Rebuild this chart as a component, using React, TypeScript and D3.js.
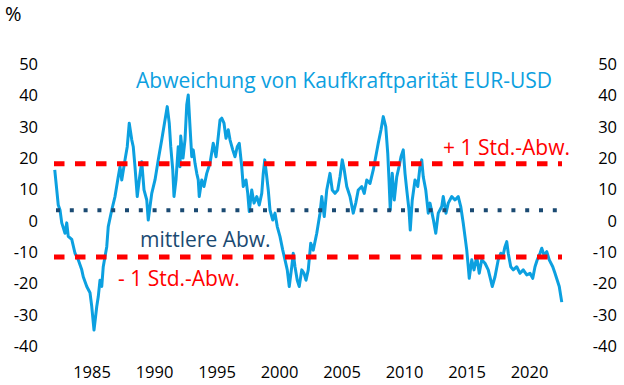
import React, { useEffect, useRef } from "react";
import * as d3 from "d3";

// decimal year of each reading
const years = [
  1982.02, 1982.18, 1982.3, 1982.44, 1982.58, 1982.84, 1982.98, 1983.1, 1983.38, 1983.64,
  1983.9, 1984.18, 1984.3, 1984.58, 1984.84, 1984.98, 1985.16, 1985.38, 1985.5, 1985.64,
  1985.78, 1985.9, 1986.18, 1986.3, 1986.58, 1986.84, 1987.1, 1987.24, 1987.38, 1987.64,
  1987.82, 1987.98, 1988.18, 1988.3, 1988.44, 1988.62, 1988.78, 1988.98, 1989.16, 1989.38,
  1989.5, 1989.64, 1989.78, 1990.04, 1990.3, 1990.44, 1990.58, 1990.84, 1991.02, 1991.18,
  1991.3, 1991.46, 1991.56, 1991.72, 1991.9, 1992.04, 1992.1, 1992.28, 1992.44, 1992.58,
  1992.7, 1992.84, 1992.98, 1993.1, 1993.24, 1993.38, 1993.5, 1993.58, 1993.78, 1993.96,
  1994.18, 1994.44, 1994.7, 1994.92, 1995.1, 1995.24, 1995.38, 1995.56, 1995.72, 1995.9,
  1996.04, 1996.26, 1996.44, 1996.62, 1996.78, 1996.98, 1997.1, 1997.32, 1997.46, 1997.58,
  1997.78, 1997.96, 1998.18, 1998.38, 1998.58, 1998.7, 1998.82, 1998.98, 1999.1, 1999.24,
  1999.46, 1999.64, 1999.82, 2000.04, 2000.26, 2000.44, 2000.62, 2000.78, 2000.98, 2001.1,
  2001.24, 2001.42, 2001.58, 2001.78, 2001.96, 2002.12, 2002.3, 2002.5, 2002.7, 2002.98,
  2003.24, 2003.38, 2003.58, 2003.78, 2004.04, 2004.22, 2004.44, 2004.66, 2004.84, 2005.02,
  2005.18, 2005.38, 2005.64, 2005.9, 2006.1, 2006.3, 2006.58, 2006.78, 2006.98, 2007.24,
  2007.5, 2007.7, 2007.9, 2008.12, 2008.3, 2008.5, 2008.66, 2008.76, 2008.86, 2009.02,
  2009.18, 2009.38, 2009.56, 2009.72, 2009.9, 2010.04, 2010.18, 2010.36, 2010.46, 2010.62,
  2010.84, 2011.06, 2011.24, 2011.38, 2011.5, 2011.7, 2011.9, 2012.04, 2012.3, 2012.5,
  2012.7, 2012.98, 2013.1, 2013.32, 2013.5, 2013.78, 2014.04, 2014.3, 2014.5, 2014.7,
  2014.84, 2014.98, 2015.1, 2015.18, 2015.38, 2015.56, 2015.78, 2015.98, 2016.18, 2016.44,
  2016.7, 2016.9, 2017.02, 2017.24, 2017.5, 2017.7, 2017.86, 2018.04, 2018.18, 2018.3,
  2018.5, 2018.7, 2018.98, 2019.24, 2019.5, 2019.78, 2020.04, 2020.26, 2020.44, 2020.62,
  2020.84, 2020.98, 2021.16, 2021.38, 2021.58, 2021.86, 2022.04, 2022.22, 2022.38, 2022.58,
];

// Abweichung in %
const deviation = [
  16.2, 9.8, 5.0, 3.4, -0.7, -4.0, -0.7, -5.0, -6.0, -10.4,
  -12.5, -15.7, -17.9, -21.0, -23.0, -27.4, -34.9, -27.4, -24.3, -19.0,
  -21.0, -14.7, -8.3, -1.9, 3.4, 7.7, 14.0, 17.2, 13.0, 19.4,
  23.6, 31.1, 25.8, 23.6, 17.2, 7.7, 13.0, 18.8, 9.8, 6.6,
  0.2, 4.5, 8.7, 13.0, 19.4, 22.6, 25.8, 32.1, 36.4, 31.1,
  23.6, 16.2, 7.7, 13.0, 23.6, 17.2, 27.0, 20.0, 25.8, 37.0,
  40.1, 30.0, 20.4, 22.6, 18.3, 15.1, 13.0, 7.7, 13.0, 10.9,
  15.1, 18.3, 24.7, 20.4, 26.8, 32.1, 32.7, 31.1, 26.3, 29.0,
  25.8, 22.6, 20.4, 23.6, 24.7, 17.2, 10.9, 13.0, 8.7, 2.9,
  9.8, 5.6, 7.7, 5.0, 8.7, 15.1, 19.4, 14.0, 9.8, 3.4,
  0.2, 2.4, -1.9, -5.1, -9.4, -12.5, -15.7, -21.0, -14.7, -10.4,
  -14.7, -19.0, -21.0, -15.7, -16.8, -19.0, -15.7, -7.2, -9.4, -4.0,
  2.4, 7.7, 1.3, 9.8, 15.1, 9.8, 8.7, 9.8, 14.0, 19.4,
  16.2, 10.9, 7.7, 2.4, 5.6, 9.8, 10.9, 8.7, 13.0, 11.9,
  16.2, 20.4, 24.7, 29.0, 33.2, 30.0, 21.5, 13.0, 3.4, 15.1,
  6.6, 14.0, 17.2, 20.4, 22.6, 15.1, 9.8, 3.4, -3.0, 6.6,
  13.0, 10.9, 17.2, 19.4, 14.0, 9.8, 2.4, 5.6, 0.5, -4.0,
  2.4, 4.5, 7.7, 2.4, 5.6, 7.7, 6.6, 7.7, 4.5, -0.8,
  -5.1, -9.4, -14.7, -18.4, -12.5, -15.7, -11.5, -16.8, -12.5, -13.6,
  -15.7, -19.0, -21.0, -17.9, -12.5, -10.4, -11.5, -8.3, -6.7, -10.4,
  -14.7, -15.7, -14.7, -16.8, -15.7, -17.3, -16.8, -18.4, -14.7, -12.5,
  -10.4, -8.8, -11.0, -9.9, -12.5, -14.7, -16.8, -19.0, -21.0, -26.0,
];

const meanDev = 3.3;
const plusStd = 18.2;
const minusStd = -11.6;

const yTicks = [50, 40, 30, 20, 10, 0, -10, -20, -30, -40];
const xTicks = [1985, 1990, 1995, 2000, 2005, 2010, 2015, 2020];

const width = 624;
const height = 385;
const blue = "#0ca0e0";
const red = "#ff0000";
const navy = "#1b4a72";
const font = "'Open Sans', 'Noto Sans', sans-serif";

const App = () => {
  const ref = useRef<SVGSVGElement>(null);

  useEffect(() => {
    const svg = d3.select(ref.current);
    svg.selectAll("*").remove();

    const x = d3.scaleLinear().domain([1982, 2022.6]).range([54.5, 562]);
    const y = d3.scaleLinear().domain([-40, 50]).range([346, 64]);

    const data = years.map((yr, i) => ({ yr, v: deviation[i] }));

    // left + right value labels
    svg
      .append("g")
      .selectAll("text")
      .data(yTicks)
      .enter()
      .append("text")
      .attr("x", 38)
      .attr("y", (d) => y(d))
      .attr("dy", "0.36em")
      .attr("text-anchor", "end")
      .text((d) => d);

    svg
      .append("g")
      .selectAll("text")
      .data(yTicks)
      .enter()
      .append("text")
      .attr("x", 617)
      .attr("y", (d) => y(d))
      .attr("dy", "0.36em")
      .attr("text-anchor", "end")
      .text((d) => d);

    svg
      .append("g")
      .selectAll("text")
      .data(xTicks)
      .enter()
      .append("text")
      .attr("x", (d) => x(d))
      .attr("y", 378)
      .attr("text-anchor", "middle")
      .text((d) => d);

    svg.selectAll("text").attr("font-size", 16.5).attr("fill", "#000");

    svg
      .append("text")
      .attr("x", 5)
      .attr("y", 21)
      .attr("font-size", 20)
      .text("%");

    const line = d3
      .line<{ yr: number; v: number }>()
      .x((d) => x(d.yr))
      .y((d) => y(d.v));

    svg
      .append("path")
      .datum(data)
      .attr("d", line)
      .attr("fill", "none")
      .attr("stroke", blue)
      .attr("stroke-width", 3)
      .attr("stroke-linejoin", "round");

    const x0 = x(1982) - 0.5;
    const x1 = x(2022.6);

    [plusStd, minusStd].forEach((v) => {
      svg
        .append("line")
        .attr("x1", x0)
        .attr("x2", x1)
        .attr("y1", y(v))
        .attr("y2", y(v))
        .attr("stroke", red)
        .attr("stroke-width", 5)
        .attr("stroke-dasharray", "10.5 10.5");
    });

    svg
      .append("line")
      .attr("x1", x0 + 2)
      .attr("x2", x1)
      .attr("y1", y(meanDev))
      .attr("y2", y(meanDev))
      .attr("stroke", navy)
      .attr("stroke-width", 4)
      .attr("stroke-dasharray", "4 9.8");

    const label = (t: string, lx: number, ly: number, c: string) =>
      svg
        .append("text")
        .attr("x", lx)
        .attr("y", ly)
        .attr("font-size", 21)
        .attr("fill", c)
        .text(t);

    label("Abweichung von Kaufkraftparität EUR-USD", 136, 88, blue);
    label("+ 1 Std.-Abw.", 443, 155, red);
    label("mittlere Abw.", 140, 247, navy);
    label("- 1 Std.-Abw.", 118, 286, red);
  }, []);

  return (
    <svg
      ref={ref}
      width={width}
      height={height}
      style={{ position: "absolute", left: 0, top: 0, background: "#fff", fontFamily: font }}
    ></svg>
  );
};

export default App;
